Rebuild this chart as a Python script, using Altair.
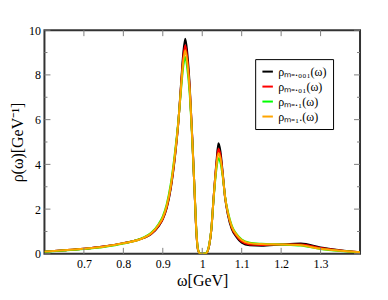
import altair as alt
import pandas as pd

omega = [0.6, 0.65, 0.7, 0.75, 0.8, 0.85, 0.87, 0.89, 0.9, 0.91, 0.92, 0.93, 0.94,
         0.947, 0.952, 0.957, 0.962, 0.968, 0.975, 0.981, 0.985, 0.989, 0.995, 1.002,
         1.01, 1.018, 1.023, 1.029, 1.036, 1.041, 1.046, 1.052, 1.058, 1.065, 1.075,
         1.087, 1.1, 1.12, 1.15, 1.2, 1.25, 1.3, 1.35, 1.4]

rho_m001 = [0.10, 0.16, 0.23, 0.33, 0.48, 0.70, 0.88, 1.25, 1.55, 2.05, 2.90, 4.20, 6.00,
            7.80, 9.00, 9.62, 9.00, 7.60, 5.10, 2.60, 1.00, 0.20, 0.00, 0.00,
            0.02, 0.40, 1.07, 2.56, 4.10, 4.94, 4.60, 3.60, 2.50, 1.75, 1.10,
            0.75, 0.50, 0.38, 0.36, 0.42, 0.46, 0.28, 0.16, 0.07]
rho_m01 = [0.10, 0.16, 0.23, 0.33, 0.48, 0.70, 0.89, 1.27, 1.57, 2.08, 2.95, 4.25, 6.00,
           7.70, 8.80, 9.33, 8.75, 7.45, 5.05, 2.62, 1.02, 0.21, 0.00, 0.00,
           0.03, 0.42, 1.08, 2.55, 4.02, 4.70, 4.42, 3.55, 2.52, 1.80, 1.16,
           0.80, 0.55, 0.42, 0.40, 0.42, 0.42, 0.26, 0.15, 0.07]
rho_m1 = [0.09, 0.15, 0.22, 0.31, 0.46, 0.72, 0.93, 1.35, 1.68, 2.22, 3.10, 4.40, 6.05,
          7.50, 8.40, 8.80, 8.30, 7.20, 4.95, 2.65, 1.08, 0.24, 0.00, 0.00,
          0.04, 0.45, 1.10, 2.50, 3.80, 4.27, 4.10, 3.45, 2.55, 1.88, 1.25,
          0.88, 0.64, 0.50, 0.45, 0.42, 0.37, 0.22, 0.13, 0.07]
rho_m1p = [0.10, 0.16, 0.23, 0.32, 0.47, 0.71, 0.91, 1.31, 1.62, 2.15, 3.02, 4.32, 6.02,
           7.60, 8.60, 9.10, 8.55, 7.35, 5.00, 2.64, 1.05, 0.22, 0.00, 0.00,
           0.03, 0.44, 1.09, 2.52, 3.92, 4.50, 4.28, 3.50, 2.54, 1.85, 1.22,
           0.86, 0.62, 0.48, 0.44, 0.42, 0.38, 0.23, 0.14, 0.07]

labels = ["ρₘ₌.₀₀₁(ω)", "ρₘ₌.₀₁(ω)", "ρₘ₌.₁(ω)", "ρₘ₌₁.(ω)"]
colors = ["#000000", "#ff0000", "#00ff00", "#ffa500"]
x_ticks = [0.7, 0.8, 0.9, 1.0, 1.1, 1.2, 1.3]
y_major = [0, 2, 4, 6, 8, 10]
y_minor = [1, 3, 5, 7, 9]

rows = []
for lab, ser in zip(labels, [rho_m001, rho_m01, rho_m1, rho_m1p]):
    for w, r in zip(omega, ser):
        rows.append({"omega": w, "rho": r, "series": lab})
df = pd.DataFrame(rows)

W, H = 316, 224
FONT = "Liberation Serif"
TICK = "#808080"
xscale = alt.Scale(domain=[0.6, 1.4], nice=False, zero=False)
yscale = alt.Scale(domain=[0, 10], nice=False)
xaxis = alt.Axis(values=x_ticks, format=".1~f", title="ω[GeV]", ticks=False,
                 labelPadding=5, titlePadding=3)
yaxis = alt.Axis(values=y_major, title="ρ(ω)[GeV⁻¹]", ticks=False,
                 labelPadding=4, titlePadding=3)

lines = alt.Chart(df).mark_line(strokeWidth=2, interpolate="monotone", clip=True).encode(
    x=alt.X("omega:Q", scale=xscale, axis=xaxis),
    y=alt.Y("rho:Q", scale=yscale, axis=yaxis),
    color=alt.Color("series:N", scale=alt.Scale(domain=labels, range=colors),
                    legend=alt.Legend(title=None, orient="none", legendX=211, legendY=29,
                                      strokeColor="black", fillColor="white", padding=6,
                                      symbolType="stroke", symbolStrokeWidth=2, symbolSize=110,
                                      labelFont=FONT, labelFontSize=12, rowPadding=2)),
)

xt = alt.Chart(pd.DataFrame({"t": x_ticks}))
ytM = alt.Chart(pd.DataFrame({"t": y_major}))
ytm = alt.Chart(pd.DataFrame({"t": y_minor}))
xenc = alt.X("t:Q", scale=xscale, axis=xaxis)
yenc = alt.Y("t:Q", scale=yscale, axis=yaxis)

tick_layers = [
    xt.mark_rule(color=TICK).encode(x=xenc, y=alt.value(H), y2=alt.value(H - 6)),
    xt.mark_rule(color=TICK).encode(x=xenc, y=alt.value(0), y2=alt.value(6)),
    ytM.mark_rule(color=TICK).encode(y=yenc, x=alt.value(0), x2=alt.value(6)),
    ytM.mark_rule(color=TICK).encode(y=yenc, x=alt.value(W), x2=alt.value(W - 6)),
    ytm.mark_rule(color=TICK).encode(y=yenc, x=alt.value(0), x2=alt.value(3)),
    ytm.mark_rule(color=TICK).encode(y=yenc, x=alt.value(W), x2=alt.value(W - 3)),
]

chart = alt.layer(lines, *tick_layers).properties(
    width=W, height=H,
    autosize=alt.AutoSizeParams(type="none"),
    padding={"left": 36.5, "top": 22, "right": 20, "bottom": 38},
).configure_view(stroke="#333333", strokeWidth=2).configure_axis(
    domain=False, grid=False,
    labelFont=FONT, labelFontSize=12, labelColor="black",
    titleFont=FONT, titleFontSize=16, titleFontWeight="normal", titleColor="black",
)

chart.save("out.html", embed_options={"renderer": "svg", "actions": False})
